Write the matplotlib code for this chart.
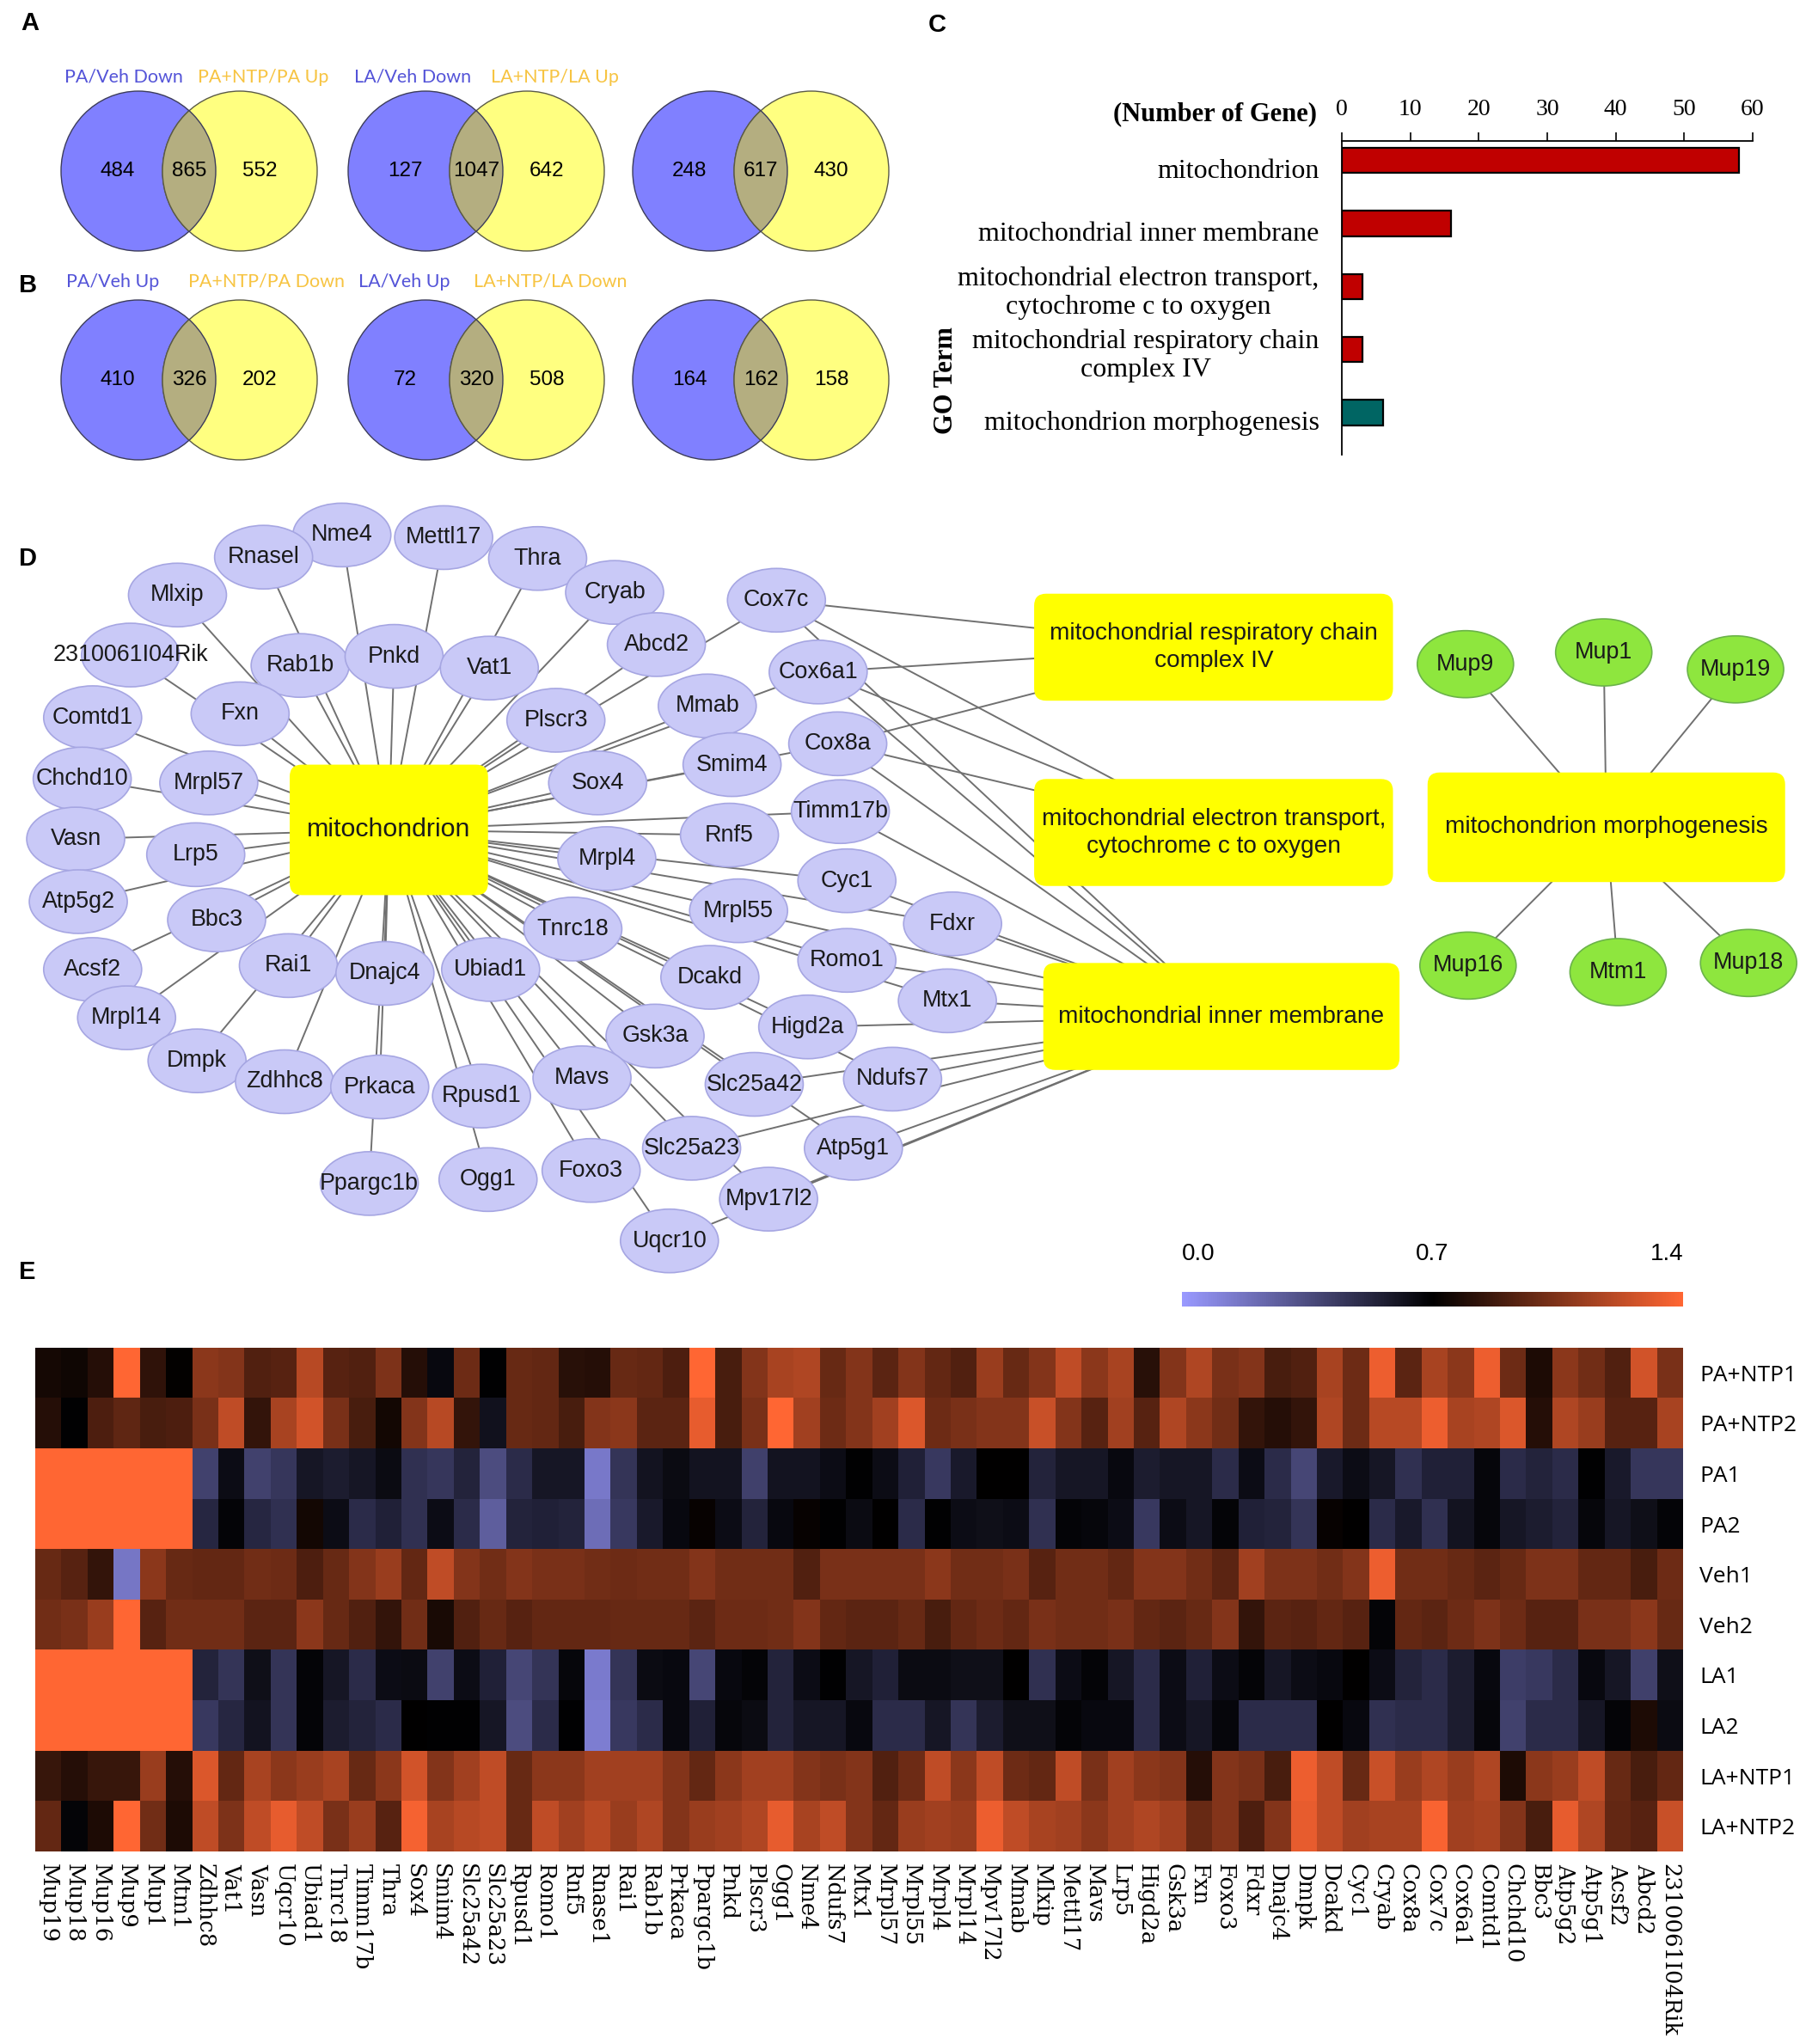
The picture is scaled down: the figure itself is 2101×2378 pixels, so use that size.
import numpy as np
import matplotlib as mpl
mpl.use('Agg')
import matplotlib.pyplot as plt
from matplotlib.patches import Ellipse, FancyBboxPatch
from matplotlib.collections import LineCollection
from matplotlib.colors import LinearSegmentedColormap
from matplotlib import font_manager as fm

# =========================================================
#   Data
# =========================================================

# panel A / B venn counts (left only, overlap, right only)
venn_A = [(484, 865, 552), (127, 1047, 642), (248, 617, 430)]
venn_B = [(410, 326, 202), (72, 320, 508), (164, 162, 158)]
titles_A = ['PA/Veh Down', 'PA+NTP/PA Up', 'LA/Veh Down', 'LA+NTP/LA Up']
titles_B = ['PA/Veh Up', 'PA+NTP/PA Down', 'LA/Veh Up', 'LA+NTP/LA Down']

# panel C GO terms
go_terms = ['mitochondrion', 'mitochondrial inner membrane',
            'mitochondrial electron transport,\ncytochrome c to oxygen',
            'mitochondrial respiratory chain\ncomplex IV',
            'mitochondrion morphogenesis']
go_counts = [58, 16, 3, 3, 6]
go_colors = ['#c00000', '#c00000', '#c00000', '#c00000', '#006563']

# panel D network genes
inner_membrane_genes = ['Cox7c', 'Cox6a1', 'Cox8a', 'Timm17b', 'Cyc1', 'Fdxr',
                        'Romo1', 'Mtx1', 'Higd2a', 'Ndufs7', 'Atp5g1', 'Mpv17l2',
                        'Slc25a23', 'Slc25a42', 'Uqcr10', 'Mrpl55']
electron_genes = ['Cox7c', 'Cox6a1', 'Cox8a']
resp_chain_genes = ['Cox7c', 'Cox6a1', 'Cox8a']
morpho_genes = ['Mup9', 'Mup1', 'Mup19', 'Mup16', 'Mtm1', 'Mup18']

# panel E heatmap
hm_genes = ['Mup19', 'Mup18', 'Mup16', 'Mup9', 'Mup1', 'Mtm1', 'Zdhhc8', 'Vat1',
            'Vasn', 'Uqcr10', 'Ubiad1', 'Tnrc18', 'Timm17b', 'Thra', 'Sox4', 'Smim4',
            'Slc25a42', 'Slc25a23', 'Rpusd1', 'Romo1', 'Rnf5', 'Rnase1', 'Rai1',
            'Rab1b', 'Prkaca', 'Ppargc1b', 'Pnkd', 'Plscr3', 'Ogg1', 'Nme4', 'Ndufs7',
            'Mtx1', 'Mrpl57', 'Mrpl55', 'Mrpl4', 'Mrpl14', 'Mpv17l2', 'Mmab', 'Mlxip',
            'Mettl17', 'Mavs', 'Lrp5', 'Higd2a', 'Gsk3a', 'Fxn', 'Foxo3', 'Fdxr',
            'Dnajc4', 'Dmpk', 'Dcakd', 'Cyc1', 'Cryab', 'Cox8a', 'Cox7c', 'Cox6a1',
            'Comtd1', 'Chchd10', 'Bbc3', 'Atp5g2', 'Atp5g1', 'Acsf2', 'Abcd2',
            '2310061I04Rik']
hm_samples = ['PA+NTP1', 'PA+NTP2', 'PA1', 'PA2', 'Veh1', 'Veh2', 'LA1', 'LA2',
              'LA+NTP1', 'LA+NTP2']

pa_ntp1 = [0.76, 0.74, 0.80, 1.40, 0.83, 0.71, 1.08, 1.06, 0.92, 0.94, 1.20, 0.94, 0.92, 1.04, 0.80, 0.66, 1.00, 0.69, 0.98, 0.97, 0.81, 0.80,
           0.98, 0.97, 0.91, 1.40, 0.90, 1.06, 1.16, 1.18, 0.98, 1.06, 0.95, 1.06, 0.97, 0.92, 1.12, 0.98, 1.06, 1.22, 1.08, 1.16,
           0.81, 1.06, 1.18, 1.03, 1.06, 0.90, 0.92, 1.16, 1.00, 1.35, 0.95, 1.16, 1.08, 1.35, 1.00, 0.78, 1.08, 1.01, 0.92, 1.27, 1.03]
pa_ntp2 = [0.80, 0.69, 0.91, 0.96, 0.90, 0.91, 1.03, 1.22, 0.84, 1.16, 1.27, 1.03, 0.90, 0.75, 1.06, 1.20, 0.84, 0.62, 0.98, 0.97, 0.90, 1.06,
           1.08, 0.95, 0.95, 1.33, 0.90, 1.03, 1.40, 1.14, 1.00, 1.06, 1.14, 1.30, 1.00, 1.03, 1.06, 1.06, 1.25, 1.06, 0.94, 1.14,
           0.94, 1.18, 1.08, 1.01, 0.84, 0.80, 0.84, 1.18, 1.00, 1.20, 1.20, 1.35, 1.16, 1.18, 1.30, 0.80, 1.18, 1.12, 0.94, 0.94, 1.16]
pa1 = [1.40, 1.40, 1.40, 1.40, 1.40, 1.40, 0.40, 0.64, 0.40, 0.45, 0.60, 0.57, 0.60, 0.65, 0.48, 0.45, 0.54, 0.35, 0.50, 0.60, 0.60, 0.15,
       0.46, 0.61, 0.65, 0.61, 0.61, 0.41, 0.61, 0.61, 0.64, 0.69, 0.64, 0.55, 0.44, 0.58, 0.70, 0.70, 0.54, 0.60, 0.60, 0.66,
       0.57, 0.60, 0.60, 0.50, 0.64, 0.50, 0.38, 0.58, 0.64, 0.60, 0.48, 0.55, 0.55, 0.67, 0.50, 0.54, 0.50, 0.69, 0.58, 0.45, 0.45]
pa2 = [1.40, 1.40, 1.40, 1.40, 1.40, 1.40, 0.52, 0.68, 0.52, 0.48, 0.75, 0.64, 0.50, 0.55, 0.48, 0.64, 0.50, 0.27, 0.54, 0.55, 0.54, 0.20,
       0.44, 0.58, 0.66, 0.72, 0.64, 0.54, 0.66, 0.72, 0.69, 0.65, 0.70, 0.50, 0.69, 0.64, 0.63, 0.64, 0.48, 0.68, 0.67, 0.64,
       0.44, 0.64, 0.60, 0.68, 0.55, 0.54, 0.46, 0.72, 0.70, 0.50, 0.58, 0.48, 0.61, 0.67, 0.60, 0.57, 0.54, 0.67, 0.60, 0.63, 0.68]
veh1 = [0.98, 0.94, 0.84, 0.16, 1.08, 0.98, 0.97, 0.97, 1.01, 1.00, 0.91, 0.98, 1.06, 1.12, 0.97, 1.22, 1.06, 1.01, 1.06, 1.03, 1.03, 1.01,
        1.00, 1.01, 1.01, 1.06, 1.01, 1.01, 1.01, 0.92, 1.03, 1.03, 1.03, 1.03, 1.08, 1.01, 1.01, 1.03, 0.94, 1.01, 1.01, 0.97,
        1.06, 1.06, 1.01, 0.95, 1.14, 1.04, 1.04, 1.01, 1.06, 1.35, 1.01, 1.01, 0.98, 0.95, 0.98, 1.04, 1.04, 0.97, 0.97, 0.90, 1.00]
veh2 = [1.01, 1.03, 1.12, 1.40, 0.94, 1.01, 1.01, 1.01, 0.95, 0.95, 1.08, 0.98, 0.92, 0.84, 1.01, 0.77, 0.92, 0.98, 0.94, 0.97, 0.97, 0.97,
        0.98, 0.98, 0.98, 0.95, 1.00, 1.00, 1.01, 1.06, 0.97, 0.95, 0.95, 0.98, 0.90, 0.97, 1.00, 0.97, 1.03, 1.01, 1.01, 1.03,
        0.97, 0.95, 0.98, 1.06, 0.84, 0.95, 0.94, 0.97, 0.94, 0.68, 0.97, 0.95, 1.00, 1.04, 1.00, 0.94, 0.94, 1.03, 1.03, 1.08, 0.98]
la1 = [1.40, 1.40, 1.40, 1.40, 1.40, 1.40, 0.54, 0.46, 0.63, 0.46, 0.68, 0.60, 0.50, 0.64, 0.65, 0.40, 0.64, 0.55, 0.38, 0.46, 0.67, 0.14,
       0.46, 0.65, 0.66, 0.38, 0.66, 0.68, 0.54, 0.64, 0.69, 0.60, 0.55, 0.65, 0.65, 0.63, 0.63, 0.70, 0.48, 0.64, 0.68, 0.60,
       0.50, 0.64, 0.55, 0.64, 0.68, 0.60, 0.64, 0.66, 0.70, 0.64, 0.54, 0.50, 0.57, 0.66, 0.42, 0.44, 0.50, 0.66, 0.60, 0.41, 0.63]
la2 = [1.40, 1.40, 1.40, 1.40, 1.40, 1.40, 0.44, 0.52, 0.61, 0.46, 0.68, 0.57, 0.54, 0.50, 0.70, 0.69, 0.69, 0.60, 0.35, 0.50, 0.69, 0.13,
       0.44, 0.50, 0.66, 0.55, 0.67, 0.65, 0.54, 0.60, 0.60, 0.66, 0.50, 0.50, 0.60, 0.46, 0.57, 0.63, 0.63, 0.68, 0.66, 0.66,
       0.50, 0.64, 0.60, 0.67, 0.50, 0.50, 0.50, 0.70, 0.66, 0.48, 0.50, 0.50, 0.57, 0.67, 0.40, 0.50, 0.50, 0.60, 0.68, 0.78, 0.65]
la_ntp1 = [0.85, 0.80, 0.85, 0.85, 1.12, 0.80, 1.30, 0.97, 1.16, 1.08, 1.12, 1.16, 0.98, 1.08, 1.27, 1.06, 1.14, 1.22, 0.98, 1.08, 1.08, 1.14,
           1.14, 1.14, 1.06, 0.97, 1.08, 1.14, 1.14, 1.06, 1.03, 1.06, 0.92, 1.00, 1.22, 1.08, 1.22, 1.00, 0.97, 1.22, 1.03, 1.14,
           1.08, 1.06, 0.80, 1.06, 1.03, 0.90, 1.35, 1.22, 0.98, 1.25, 1.12, 1.18, 1.12, 1.18, 0.78, 1.08, 1.12, 1.22, 0.98, 0.90, 0.97]
la_ntp2 = [0.97, 0.68, 0.78, 1.40, 1.01, 0.78, 1.22, 1.04, 1.22, 1.33, 1.22, 1.03, 1.12, 0.94, 1.37, 1.16, 1.20, 1.22, 0.98, 1.22, 1.14, 1.20,
           1.12, 1.18, 1.06, 1.12, 1.14, 1.18, 1.33, 1.16, 1.22, 1.06, 0.97, 1.12, 1.14, 1.12, 1.35, 1.22, 1.16, 1.14, 1.08, 1.14,
           1.18, 1.14, 0.98, 1.06, 0.91, 1.06, 1.33, 1.22, 1.14, 1.16, 1.16, 1.38, 1.14, 1.16, 1.06, 0.90, 1.33, 1.18, 0.97, 0.94, 1.25]

# =========================================================
#   Layout (pixel coordinates of the 2101 x 2378 canvas)
# =========================================================

W, H = 2101, 2378
S = 2101 / 1384.0  # network layout was measured on a 1384 px wide view

# network node centres, measured on the 1384 px view
NODE_POS = {
    'Nme4': (262, 410), 'Mettl17': (340, 412), 'Rnasel': (202, 427), 'Thra': (412, 428),
    'Cryab': (471, 454), 'Mlxip': (136, 456), 'Cox7c': (595, 460), 'Abcd2': (503, 494),
    '2310061I04Rik': (100, 502), 'Rab1b': (230, 510), 'Pnkd': (302, 503), 'Vat1': (375, 512),
    'Cox6a1': (627, 515), 'Fxn': (184, 547), 'Comtd1': (71, 550), 'Mmab': (542, 541),
    'Plscr3': (426, 552), 'Cox8a': (642, 570), 'Smim4': (561, 586), 'Chchd10': (63, 597),
    'Mrpl57': (160, 600), 'Sox4': (458, 600), 'Timm17b': (644, 622), 'Rnf5': (559, 640),
    'Vasn': (58, 643), 'Lrp5': (150, 655), 'Mrpl4': (465, 658), 'Cyc1': (649, 675),
    'Atp5g2': (60, 691), 'Mrpl55': (566, 698), 'Bbc3': (166, 705), 'Fdxr': (730, 708),
    'Tnrc18': (439, 712), 'Rai1': (221, 740), 'Acsf2': (71, 743), 'Romo1': (649, 736),
    'Dnajc4': (295, 746), 'Ubiad1': (376, 743), 'Dcakd': (544, 749), 'Mtx1': (726, 767),
    'Mrpl14': (97, 780), 'Higd2a': (619, 787), 'Gsk3a': (502, 794), 'Dmpk': (151, 813),
    'Zdhhc8': (218, 829), 'Prkaca': (291, 833), 'Mavs': (446, 826), 'Rpusd1': (369, 840),
    'Slc25a42': (578, 831), 'Ndufs7': (684, 827), 'Slc25a23': (530, 880), 'Atp5g1': (654, 880),
    'Foxo3': (453, 897), 'Ppargc1b': (283, 907), 'Ogg1': (374, 904), 'Mpv17l2': (589, 919),
    'Uqcr10': (513, 951),
}
GREEN_POS = {'Mup9': (1123, 509), 'Mup1': (1229, 500), 'Mup19': (1330, 513),
             'Mup16': (1125, 740), 'Mtm1': (1240, 745), 'Mup18': (1340, 738)}
BOX_POS = {
    'mito': ((298, 636), (152, 100), 'mitochondrion'),
    'resp': ((930, 496), (275, 82), 'mitochondrial respiratory chain\ncomplex IV'),
    'elec': ((930, 638), (275, 82), 'mitochondrial electron transport,\ncytochrome c to oxygen'),
    'inner': ((936, 779), (273, 82), 'mitochondrial inner membrane'),
    'morph': ((1231, 634), (274, 84), 'mitochondrion morphogenesis'),
}

try:
    fm.findfont('Liberation Sans Narrow', fallback_to_default=False)
    NARROW, NS = 'Liberation Sans Narrow', 1.0
except ValueError:
    NARROW, NS = 'Liberation Sans', 0.84

fig = plt.figure(figsize=(W / 100, H / 100), dpi=100)
bg = fig.add_axes([0, 0, 1, 1])
bg.set_xlim(0, W)
bg.set_ylim(H, 0)
bg.axis('off')

# panel letters
for letter, (x, y) in zip('ABCDE', [(24, 27), (22, 332), (1080, 29), (22, 650), (22, 1480)]):
    bg.text(x, y, letter, fontsize=21, fontweight='bold', family='Liberation Sans',
            ha='left', va='center')

# =========================================================
#   A / B : Venn diagrams
# =========================================================

BLUE, YELLOW, OLIVE = '#8080ff', '#ffff80', '#b4ae80'
TBLUE, TYELLOW = '#5454d8', '#f7c442'
RX, RY = 90, 93
venn_x = [(161, 279), (495, 613), (826, 944)]


def draw_venn(cxb, cxy, cy, counts):
    eb = Ellipse((cxb, cy), 2 * RX, 2 * RY, fc=BLUE, ec='none', zorder=2)
    ey = Ellipse((cxy, cy), 2 * RX, 2 * RY, fc=YELLOW, ec='#5a5a46', lw=1.0, zorder=2)
    lens = Ellipse((cxy, cy), 2 * RX, 2 * RY, fc=OLIVE, ec='#5a5a46', lw=1.0, zorder=3)
    for p in (eb, ey, lens):
        bg.add_patch(p)
    lens.set_clip_path(eb)
    bg.add_patch(Ellipse((cxb, cy), 2 * RX, 2 * RY, fc='none', ec='#3c3c5a', lw=1.0, zorder=4))
    left, mid, right = counts
    kw = dict(fontsize=17.5, family=NARROW, ha='center', va='center', zorder=5)
    bg.text(cxb - 24, cy, str(left), **kw)
    bg.text((cxb + cxy) / 2, cy, str(mid), **kw)
    bg.text(cxy + 23, cy, str(right), **kw)


for (cxb, cxy), cnt in zip(venn_x, venn_A):
    draw_venn(cxb, cxy, 199, cnt)
for (cxb, cxy), cnt in zip(venn_x, venn_B):
    draw_venn(cxb, cxy, 442, cnt)

tkw = dict(fontsize=15.5, family=['Lato', NARROW], ha='center', va='center')
for t, x, c in zip(titles_A, [144, 306, 480, 645], [TBLUE, TYELLOW, TBLUE, TYELLOW]):
    bg.text(x, 90, t, color=c, **tkw)
for t, x, c in zip(titles_B, [131, 310, 470, 640], [TBLUE, TYELLOW, TBLUE, TYELLOW]):
    bg.text(x, 328, t, color=c, **tkw)

# =========================================================
#   C : GO term bar chart
# =========================================================

axc = fig.add_axes([1561 / W, 1 - 529 / H, 478 / W, 365 / H])
ypos = np.arange(len(go_terms))
axc.barh(ypos, go_counts, height=0.4, color=go_colors, edgecolor='black', linewidth=1.6)
axc.set_xlim(0, 60)
axc.set_ylim(4.67, -0.31)
axc.xaxis.tick_top()
axc.set_xticks(np.arange(0, 61, 10))
axc.tick_params(axis='x', direction='out', length=7, width=1.2, pad=10,
                labelsize=20)
for lbl in axc.get_xticklabels():
    lbl.set_family('Liberation Serif')
axc.set_yticks([])
axc.spines['right'].set_visible(False)
axc.spines['bottom'].set_visible(False)
axc.spines['top'].set_linewidth(1.3)
axc.spines['left'].set_linewidth(1.3)
axc.patch.set_alpha(0)

label_dy = [0.17, 0.17, -0.33, -0.33, 0.17]
for i, (term, dy) in enumerate(zip(go_terms, label_dy)):
    multi = '\n' in term
    axc.text(-0.055, i + dy, term, transform=axc.get_yaxis_transform(),
             ha='right', va='top' if multi else 'center', multialignment='center',
             fontsize=23, family='Liberation Serif', linespacing=1.2)
axc.text(-0.06, 1.085, '(Number of Gene)', transform=axc.transAxes, ha='right',
         va='center', fontsize=22, fontweight='bold', family='Liberation Serif')
bg.text(1101, 443, 'GO Term', rotation=90, ha='center', va='center', fontsize=22,
        fontweight='bold', family='Liberation Serif')

# =========================================================
#   D : network
# =========================================================

def px(p):
    return (p[0] * S, p[1] * S)


mito_c = px(BOX_POS['mito'][0])
segs = []
for g, p in NODE_POS.items():
    segs.append([px(p), mito_c])
for key, genes in [('inner', inner_membrane_genes), ('elec', electron_genes),
                   ('resp', resp_chain_genes)]:
    bc = px(BOX_POS[key][0])
    for g in genes:
        segs.append([px(NODE_POS[g]), bc])
morph_c = px(BOX_POS['morph'][0])
for g in morpho_genes:
    segs.append([px(GREEN_POS[g]), morph_c])
bg.add_collection(LineCollection(segs, colors='#707070', linewidths=1.4, zorder=1))

NW, NH = 114, 74
for g, p in NODE_POS.items():
    x, y = px(p)
    bg.add_patch(Ellipse((x, y), NW, NH, fc='#c9c9f7', ec='#a6a6e2', lw=1.2, zorder=3))
    bg.text(x, y, g, ha='center', va='center', fontsize=23 * NS, family=NARROW,
            color='#1a1a1a', zorder=4)
for g, p in GREEN_POS.items():
    x, y = px(p)
    bg.add_patch(Ellipse((x, y), 112, 78, fc='#8ee63e', ec='#6bb34a', lw=1.2, zorder=3))
    bg.text(x, y, g, ha='center', va='center', fontsize=23 * NS, family=NARROW,
            color='#1a1a1a', zorder=4)
for key, (c, (bw, bh), txt) in BOX_POS.items():
    x, y = px(c)
    w, h = bw * S, bh * S
    bg.add_patch(FancyBboxPatch((x - w / 2, y - h / 2), w, h,
                                boxstyle='round,pad=0,rounding_size=14',
                                fc='#ffff00', ec='none', zorder=3))
    bg.text(x, y, txt, ha='center', va='center', multialignment='center',
            fontsize=(26 if key == 'mito' else 24) * NS, family=NARROW,
            linespacing=1.3, color='#1a1a1a', zorder=4)

# =========================================================
#   E : heatmap
# =========================================================

cmap = LinearSegmentedColormap.from_list('bko', ['#9999ff', '#000000', '#ff6633'])
hm = np.array([pa_ntp1, pa_ntp2, pa1, pa2, veh1, veh2, la1, la2, la_ntp1, la_ntp2])

axe = fig.add_axes([41 / W, 1 - 2154 / H, 1917 / W, 586 / H])
axe.imshow(hm, cmap=cmap, vmin=0, vmax=1.4, aspect='auto', interpolation='nearest')
axe.set_xticks(np.arange(len(hm_genes)))
axe.set_xticklabels(hm_genes, rotation=270, fontsize=18.5, family='DejaVu Serif',
                    va='top', ha='center')
axe.yaxis.tick_right()
axe.set_yticks(np.arange(len(hm_samples)))
axe.set_yticklabels(hm_samples, fontsize=19, family='Open Sans')
axe.tick_params(length=0)
axe.tick_params(axis='x', pad=10)
axe.tick_params(axis='y', pad=14)
for s in axe.spines.values():
    s.set_visible(False)

cax = fig.add_axes([1375 / W, 1 - 1520 / H, 583 / W, 17 / H])
sm = mpl.cm.ScalarMappable(norm=mpl.colors.Normalize(0, 1.4), cmap=cmap)
cb = fig.colorbar(sm, cax=cax, orientation='horizontal', ticks=[0, 0.7, 1.4])
cb.outline.set_visible(False)
cax.xaxis.set_ticks_position('top')
cax.tick_params(length=0, pad=22, labelsize=20)
cax.set_xticklabels(['0.0', '0.7', '1.4'])
for lbl, ha in zip(cax.get_xticklabels(), ['left', 'center', 'right']):
    lbl.set_ha(ha)
    lbl.set_family('Liberation Sans')

fig.savefig('out.png', dpi=100)
